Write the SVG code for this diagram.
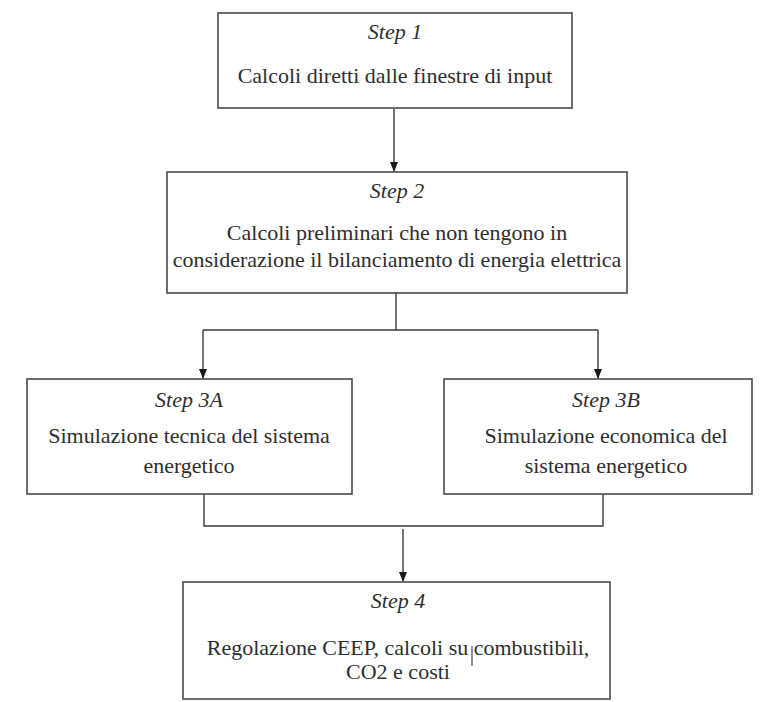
<svg xmlns="http://www.w3.org/2000/svg" width="769" height="702" viewBox="0 0 769 702">
<style>
.box{fill:#fff;stroke:#4a4a4a;stroke-width:1.6}
.t{font-size:22px;fill:#2e2e2e;text-anchor:middle}
.s{font-style:italic}
.c{fill:none;stroke:#3a3a3a;stroke-width:1.4}
</style>
<defs>
<marker id="ah" markerWidth="10" markerHeight="10" refX="9" refY="5" orient="auto" markerUnits="userSpaceOnUse">
<path d="M0,1 L10,5 L0,9 Z" fill="#1a1a1a"/>
</marker>
</defs>
<rect width="769" height="702" fill="#fff"/>
<g id="connectors">
<line class="c" x1="394" y1="109" x2="394" y2="171" marker-end="url(#ah)"/>
<polyline class="c" points="396,293 396,330"/>
<polyline class="c" points="203,330 598,330"/>
<line class="c" x1="203" y1="330" x2="203" y2="378" marker-end="url(#ah)"/>
<line class="c" x1="598" y1="330" x2="598" y2="378" marker-end="url(#ah)"/>
<polyline class="c" points="204,494 204,526 603,526 603,494"/>
<line class="c" x1="403" y1="529" x2="403" y2="581" marker-end="url(#ah)"/>
</g>
<g font-family="Liberation Serif, Times New Roman, DejaVu Serif, serif">
<g id="step1">
<rect class="box" x="218" y="13" width="354" height="95"/>
<text class="t s" x="395" y="39">Step 1</text>
<text class="t" x="395" y="83">Calcoli diretti dalle finestre di input</text>
</g>
<g id="step2">
<rect class="box" x="167" y="172" width="460" height="121"/>
<text class="t s" x="397" y="198">Step 2</text>
<text class="t" x="397" y="240">Calcoli preliminari che non tengono in</text>
<text class="t" x="397" y="267">considerazione il bilanciamento di energia elettrica</text>
</g>
<g id="step3a">
<rect class="box" x="27" y="379" width="325" height="115"/>
<text class="t s" x="189" y="407">Step 3A</text>
<text class="t" x="189" y="443">Simulazione tecnica del sistema</text>
<text class="t" x="189" y="473">energetico</text>
</g>
<g id="step3b">
<rect class="box" x="444" y="379" width="308" height="115"/>
<text class="t s" x="606" y="407">Step 3B</text>
<text class="t" x="606" y="443">Simulazione economica del</text>
<text class="t" x="606" y="473">sistema energetico</text>
</g>
<g id="step4">
<rect class="box" x="183" y="582" width="427" height="117"/>
<text class="t s" x="398" y="608">Step 4</text>
<text class="t" x="398" y="655">Regolazione CEEP, calcoli su combustibili,</text>
<text class="t" x="398" y="679">CO2 e costi</text>
<line x1="472" y1="646" x2="472" y2="666" stroke="#222" stroke-width="1"/>
</g>
</g>
</svg>
